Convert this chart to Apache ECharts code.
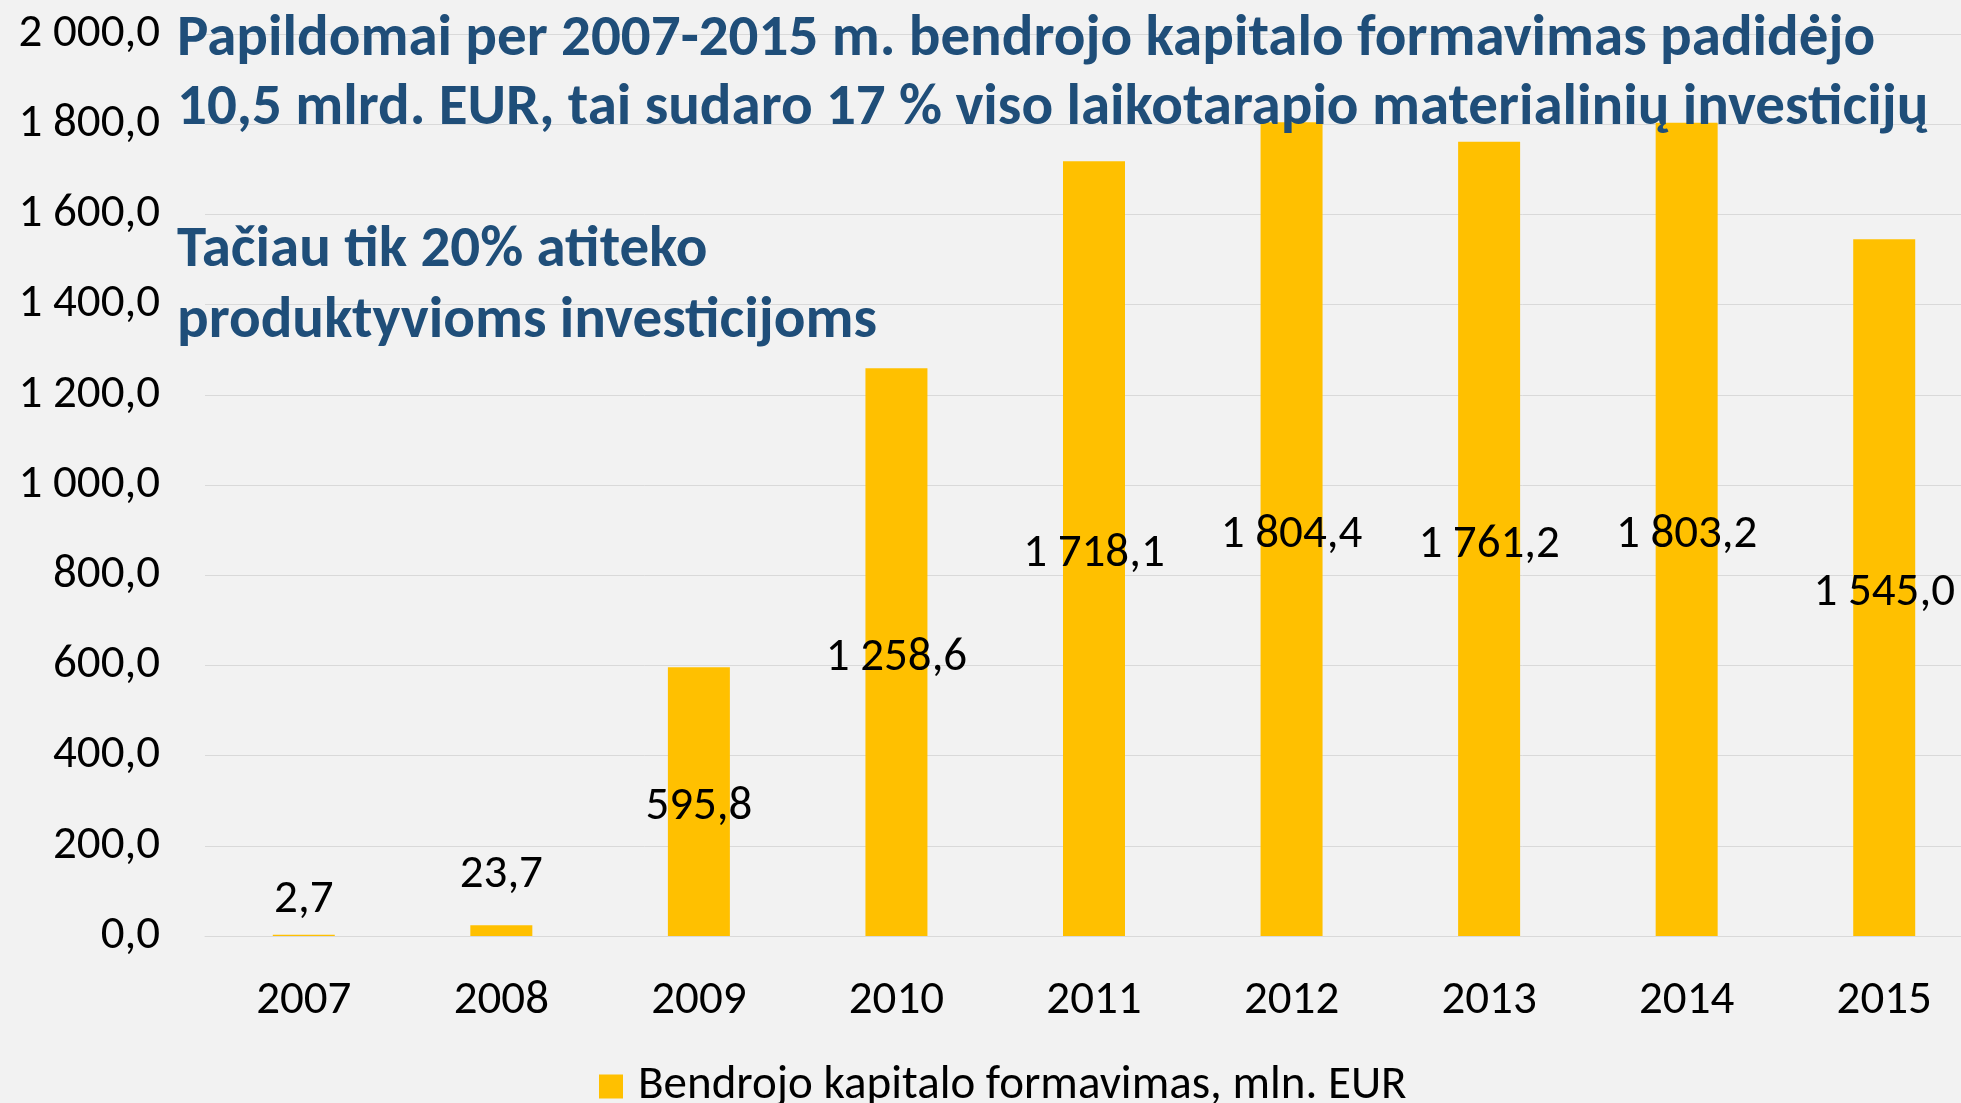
<!DOCTYPE html>
<html>
<head>
<meta charset="utf-8">
<script src="https://cdn.jsdelivr.net/npm/echarts@6/dist/echarts.min.js"></script>
<style>
    html, body { margin: 0; padding: 0; background: #f2f2f2; }
    #chart { width: 1961px; height: 1103px; }
</style>
</head>
<body>
<div id="chart"></div>
<script>
// data
const years = ['2007', '2008', '2009', '2010', '2011', '2012', '2013', '2014', '2015'];
const capitalFormation = [2.7, 23.7, 595.8, 1258.6, 1718.1, 1804.4, 1761.2, 1803.2, 1545.0];
const seriesName = 'Bendrojo kapitalo formavimas, mln. EUR';
const headline = 'Papildomai per 2007-2015 m. bendrojo kapitalo formavimas padidėjo\n10,5 mlrd. EUR, tai sudaro 17 % viso laikotarapio materialinių investicijų';
const subline = 'Tačiau tik 20% atiteko\nproduktyvioms investicijoms';

const FONT = 'Carlito, Lato, sans-serif';
const TXT = 47;

// 1 234,5 style
function fmt(v) {
    let parts = v.toFixed(1).split('.');
    parts[0] = parts[0].replace(/\B(?=(\d{3})+(?!\d))/g, ' ');
    return parts.join(',');
}

// tiny bars get their label lifted above the bar (like excel does)
const liftedLabels = {0: 11, 1: 27};

let barData = capitalFormation.map((v, i) => {
    if (liftedLabels[i] === undefined) return v;
    return {value: v, label: {position: 'top', distance: liftedLabels[i], offset: [0, 0]}};
});

let chart = echarts.init(document.getElementById('chart'));
chart.setOption({
    backgroundColor: '#f2f2f2',
    animation: false,
    title: [
        {
            text: headline,
            left: 177,
            top: 6,
            padding: 0,
            textStyle: {
                fontFamily: FONT,
                fontSize: 59,
                fontWeight: 'bold',
                color: '#1f4e79',
                lineHeight: 69
            }
        },
        {
            text: subline,
            left: 177,
            top: 216,
            padding: 0,
            textStyle: {
                fontFamily: FONT,
                fontSize: 59,
                fontWeight: 'bold',
                color: '#1f4e79',
                lineHeight: 71
            }
        }
    ],
    legend: {
        data: [seriesName],
        left: 594,
        top: 1058,
        icon: 'rect',
        itemWidth: 24,
        itemHeight: 24,
        textStyle: {
            fontFamily: FONT,
            fontSize: TXT,
            color: '#000',
            padding: [0, 0, 0, 10]
        }
    },
    grid: {
        left: 205,
        top: 34,
        bottom: 167,
        width: 1778,
        outerBoundsMode: 'none'   // plot runs past the right edge in the original
    },
    xAxis: {
        type: 'category',
        data: years,
        axisTick: {show: false},
        axisLine: {lineStyle: {color: '#d9d9d9', width: 1}},
        axisLabel: {
            fontFamily: FONT,
            fontSize: TXT,
            color: '#000',
            margin: 42
        }
    },
    yAxis: {
        type: 'value',
        min: 0,
        max: 2000,
        interval: 200,
        axisLine: {show: false},
        axisTick: {show: false},
        splitLine: {lineStyle: {color: '#d9d9d9', width: 1}},
        axisLabel: {
            fontFamily: FONT,
            fontSize: TXT,
            color: '#000',
            margin: 45,
            formatter: v => fmt(v)
        }
    },
    series: [
        {
            name: seriesName,
            type: 'bar',
            data: barData,
            barWidth: 62,
            itemStyle: {color: '#ffc000'},
            label: {
                show: true,
                position: 'inside',
                offset: [0, 6],
                fontFamily: FONT,
                fontSize: TXT,
                color: '#000',
                formatter: p => fmt(p.value)
            }
        }
    ]
});
</script>
</body>
</html>
